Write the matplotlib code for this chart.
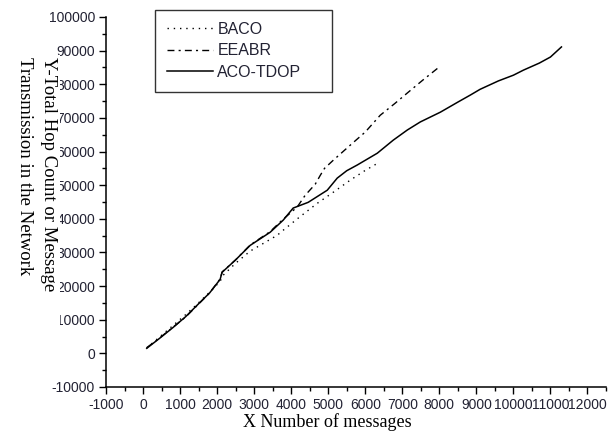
import matplotlib
matplotlib.use("Agg")
import matplotlib.pyplot as plt
from matplotlib.patches import Rectangle
from matplotlib.ticker import MultipleLocator

# values
baco_x = [100, 450, 811, 1150, 1459, 1800, 2081, 2160, 2500, 2892, 3250,
          3622, 3784, 4200, 4703, 5150, 5595, 6000, 6378]
baco_y = [1600, 4900, 8300, 11500, 14600, 18200, 21400, 23200, 26800, 30400,
          32700, 35100, 36600, 40300, 44600, 48000, 51500, 54400, 56800]

eeabr_x = [100, 450, 811, 1150, 1459, 1800, 2081, 2135, 2500, 2892, 3432,
           3784, 4162, 4378, 4650, 4784, 4900, 5135, 5595, 6000, 6405, 6800,
           7135, 7550, 8027]
eeabr_y = [1700, 4600, 7800, 10800, 14200, 18000, 22100, 24200, 27800, 32200,
           36200, 39900, 43500, 47000, 50300, 52900, 55000, 57400, 61900,
           65800, 70800, 74300, 77400, 81200, 85400]

tdop_x = [100, 450, 811, 1150, 1459, 1800, 2081, 2135, 2500, 2892, 3432, 3784,
          4054, 4459, 4973, 5243, 5500, 5784, 6324, 6757, 7135, 7486, 8027,
          8500, 8838, 9100, 9595, 10000, 10270, 10700, 11000, 11297]
tdop_y = [1500, 4500, 7700, 10900, 14300, 18000, 22000, 24100, 27800, 32100,
          36000, 39600, 43200, 44900, 48500, 52100, 54300, 56000, 59500, 63400,
          66400, 68800, 71700, 74700, 76800, 78500, 81000, 82700, 84200,
          86300, 88100, 91100]

plt.rcParams['font.family'] = ['Liberation Sans', 'DejaVu Sans']
plt.rcParams['axes.unicode_minus'] = False

fig = plt.figure(figsize=(6.14, 4.33), dpi=100)
ax = fig.add_axes([106 / 614, 1 - 387 / 433, 500 / 614, 370 / 433])

ax.plot(baco_x, baco_y, color='black', lw=1.0, linestyle=(0, (1, 3.5)),
        label='BACO')
ax.plot(eeabr_x, eeabr_y, color='black', lw=1.0,
        linestyle=(0, (5, 3, 1.5, 3)), label='EEABR')
ax.plot(tdop_x, tdop_y, color='black', lw=1.1, linestyle='-',
        label='ACO-TDOP')

ax.set_xlim(-1000, 12500)
ax.set_ylim(-10000, 100000)
ax.xaxis.set_major_locator(MultipleLocator(1000))
ax.xaxis.set_minor_locator(MultipleLocator(500))
ax.yaxis.set_major_locator(MultipleLocator(10000))
ax.yaxis.set_minor_locator(MultipleLocator(5000))
ax.set_xticks([t for t in range(-1000, 12001, 1000)])

for s in ['top', 'right']:
    ax.spines[s].set_visible(False)
for s in ['left', 'bottom']:
    ax.spines[s].set_linewidth(1.1)

ax.tick_params(which='major', direction='out', length=5, width=1.0,
               labelsize=10, labelcolor='#222233', pad=3)
ax.tick_params(which='minor', direction='out', length=3, width=1.0)

leg = ax.legend(loc='upper left', bbox_to_anchor=(155 / 614, 1 - 10 / 433, 177 / 614, 0),
                bbox_transform=fig.transFigure, mode='expand', fontsize=11.5,
                frameon=True, fancybox=False, handlelength=2.9,
                handletextpad=0.25, labelspacing=0.4, borderpad=0.75,
                borderaxespad=0)
leg.get_frame().set_edgecolor('black')
leg.get_frame().set_linewidth(1.0)
for t in leg.get_texts():
    t.set_color('#222233')

# white strip from the original scan that hides the first digit of the y labels
fig.patches.append(Rectangle((0, 1 - 330 / 433), 60 / 614, 275 / 433,
                             transform=fig.transFigure, facecolor='white',
                             edgecolor='none', zorder=2))

fig.text(57 / 614, 1 - 57 / 433,
         'Y-Total Hop Count or Message\nTransmission in the Network',
         rotation=270, ha='left', va='top', multialignment='left',
         family='Liberation Serif', fontsize=13.5, linespacing=1.55, zorder=3,
         rotation_mode='anchor')

fig.text(327 / 614, 1 - 422 / 433, 'X Number of messages',
         family='Liberation Serif', fontsize=13, ha='center', va='center')

fig.savefig('out.png', dpi=100)
